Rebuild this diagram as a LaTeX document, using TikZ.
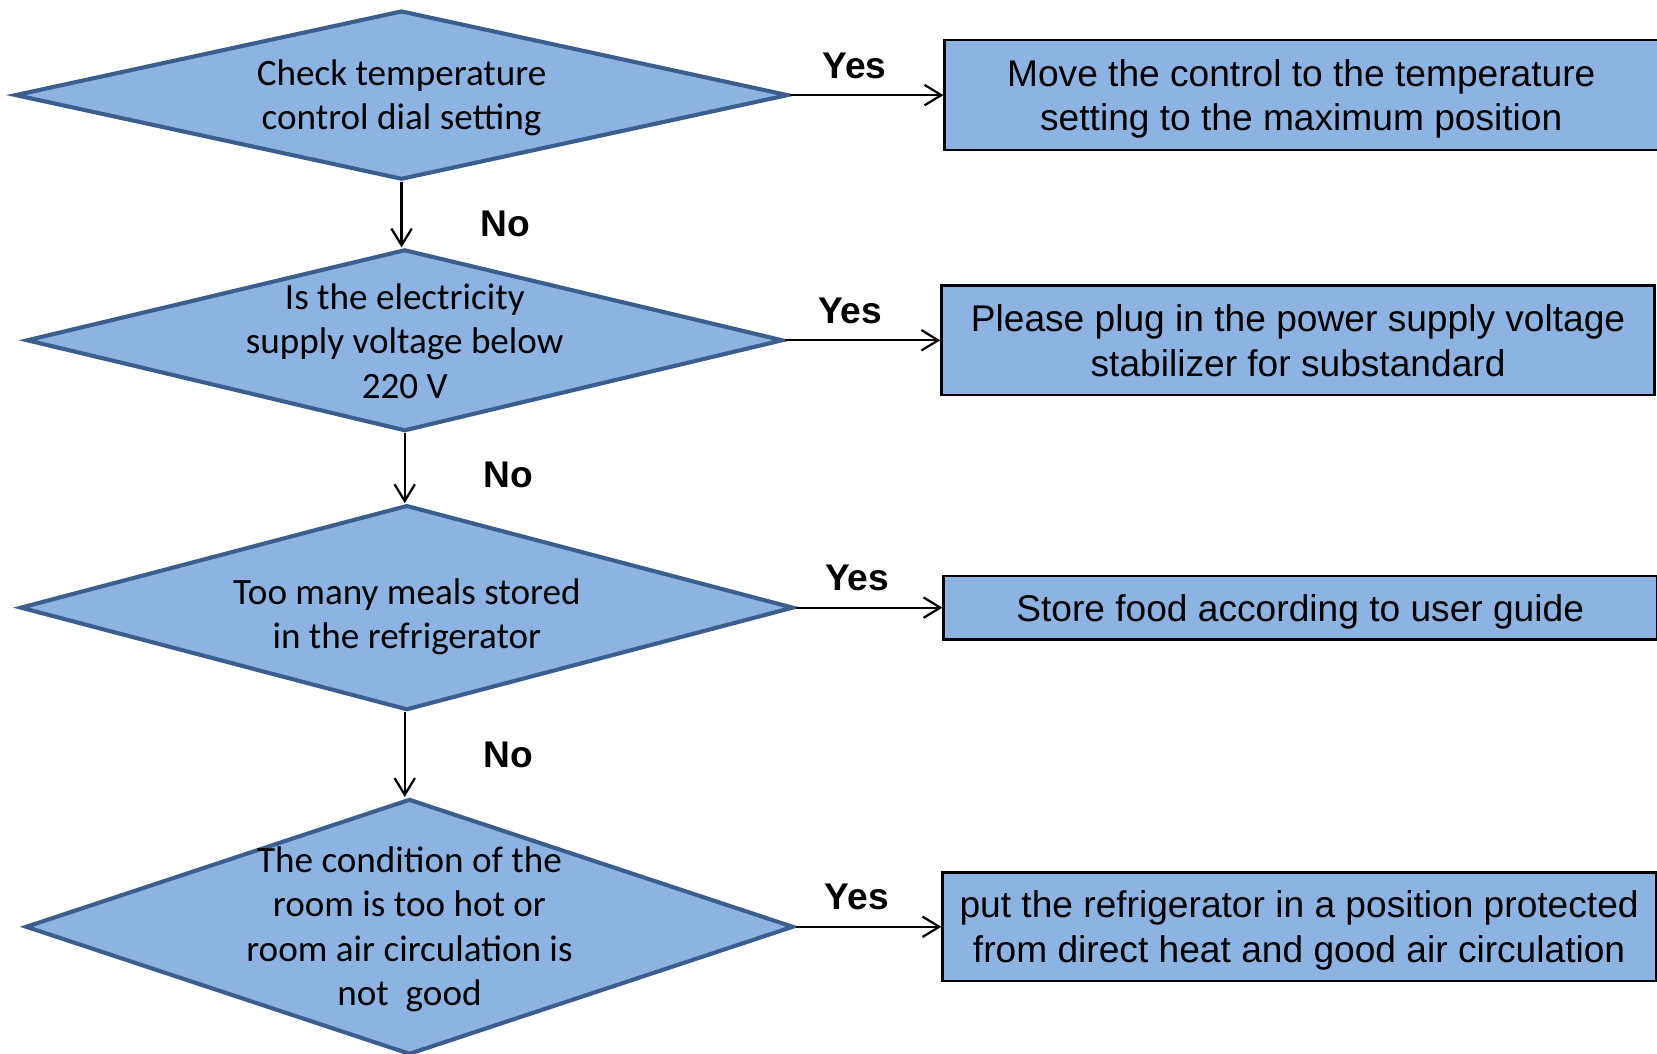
\documentclass[tikz,border=0pt]{standalone}
\usepackage{fontspec}
\setmainfont{Liberation Sans}
\newfontfamily\calibri{Carlito}
\usetikzlibrary{positioning, shapes.geometric, arrows.meta}
\definecolor{shapeblue}{HTML}{8DB3E2}
\definecolor{edgeblue}{HTML}{3A5F8F}

\begin{document}
\begin{tikzpicture}[x=0.02cm, y=-0.02cm, node distance=16.95cm, auto,
    decision/.style={diamond, draw=edgeblue, line width=2.2pt, fill=shapeblue, inner sep=0pt},
    dtext/.style={font=\calibri\fontsize{20}{24}\selectfont, align=center, yshift=-0.05cm},
    action/.style={rectangle, draw=black, line width=1.3pt, fill=shapeblue, minimum width=13.5cm,
        align=center, text depth=0pt, font=\fontsize{20}{24}\selectfont},
    answer/.style={font=\bfseries\fontsize{20}{24}\selectfont},
    >={Straight Barb[length=9pt, width=11pt]}]
    \useasboundingbox (0,0) rectangle (1568,997);

    % Define nodes
    \node [decision, minimum width=14.64cm, minimum height=3.2cm,
        label={[dtext]center:Check temperature\\control dial setting}] (Dial) at (380,90) {};
    \node [decision, minimum width=14.32cm, minimum height=3.44cm,
        label={[dtext, yshift=0.04cm]center:Is the electricity\\supply voltage below\\220 V}] (Volt) at (383,322) {};
    \node [decision, minimum width=14.64cm, minimum height=3.88cm,
        label={[dtext, yshift=-0.12cm]center:Too many meals stored\\in the refrigerator}] (Meals) at (385,575) {};
    \node [decision, minimum width=14.54cm, minimum height=4.84cm,
        label={[dtext]center:The condition of the\\room is too hot or\\room air circulation is\\not~ good}] (Room) at (387.5,877) {};

    \node [action, minimum height=2.08cm, right of=Dial, xshift=0.08cm] (Dialfix) {Move the control to the temperature\\setting to the maximum position};
    \node [action, minimum height=2.08cm, right of=Volt, xshift=-0.04cm] (Voltfix) {Please plug in the power supply voltage\\stabilizer for substandard};
    \node [action, minimum height=1.2cm, right of=Meals, xshift=-0.04cm] (Mealsfix) {Store food according to user guide};
    \node [action, minimum height=2.06cm, right of=Room, xshift=-0.11cm] (Roomfix) {put the refrigerator in a position protected\\from direct heat and good air circulation};

    % Yes arrows to the actions
    \draw[->, line width=1.2pt] (Dial.east) -- node[answer, above=5pt, pos=0.42]{Yes} (Dialfix.west);
    \draw[->, line width=1.2pt] (Volt.east) -- node[answer, above=5pt, pos=0.42]{Yes} (Voltfix.west);
    \draw[->, line width=1.2pt] (Meals.east) -- node[answer, above=5pt, pos=0.42]{Yes} (Mealsfix.west);
    \draw[->, line width=1.2pt] (Room.east) -- node[answer, above=5pt, pos=0.42]{Yes} (Roomfix.west);

    % No arrows down the chain
    \draw[->, line width=1.2pt] (Dial.south) -- node[answer, right=1.36cm, pos=0.65]{No} (Dial.south |- Volt.north);
    \draw[->, line width=1.2pt] (Volt.south) -- node[answer, right=1.36cm, pos=0.6]{No} (Volt.south |- Meals.north);
    \draw[->, line width=1.2pt] (Meals.south -| Volt.south) -- node[answer, right=1.36cm, pos=0.5]{No} (Volt.south |- Room.north);
\end{tikzpicture}
\end{document}
